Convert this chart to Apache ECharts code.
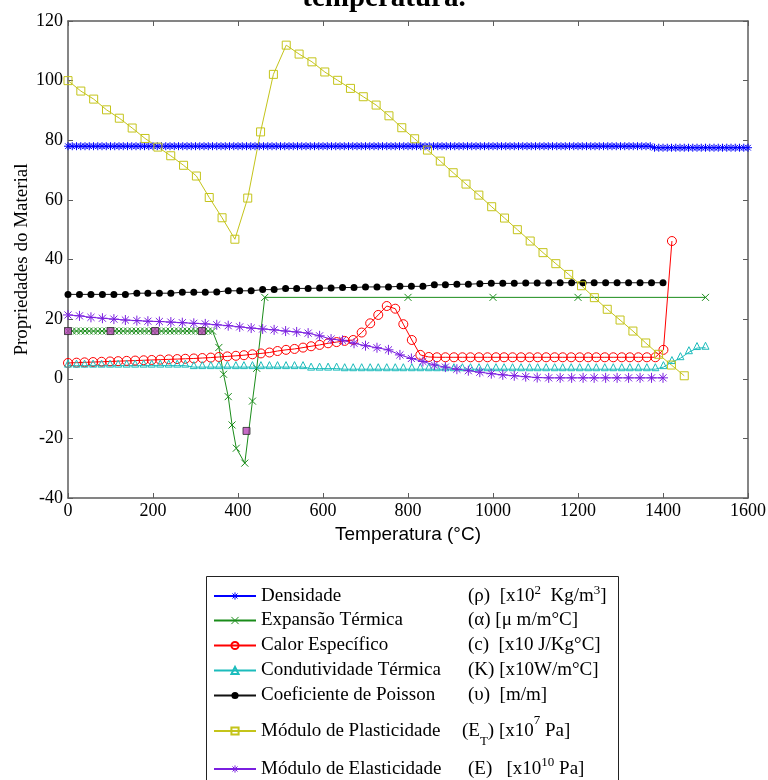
<!DOCTYPE html>
<html>
<head>
<meta charset="utf-8">
<script src="https://cdn.jsdelivr.net/npm/echarts@6/dist/echarts.min.js"></script>
<style>
html,body{margin:0;padding:0;background:#fff;}
#chart{width:768px;height:780px;}
</style>
</head>
<body>
<div id="chart"></div>
<script>
// ---------------- DATA ----------------
const titleText = 'temperatura.';
const xAxisName = 'Temperatura (°C)';
const yAxisName = 'Propriedades do Material';

const seriesNames = ['Densidade', 'Expansão Térmica', 'Calor Específico', 'Condutividade Térmica',
  'Coeficiente de Poisson', 'Módulo de Plasticidade', 'Módulo de Elasticidade'];
const unitLabels = [
  '{u|(ρ)  [x10}{sup|2}{u|  Kg/m}{sup|3}{u|]}',
  '{u|(α) [μ m/m°C]}',
  '{u|(c)  [x10 J/Kg°C]}',
  '{u|(K) [x10W/m°C]}',
  '{u|(υ)  [m/m]}',
  '{u6|(E}{sub|T}{u6|) [x10}{sup6|7}{u6| Pa]}',
  '{u7|(E)   [x10}{sup|10}{u7| Pa]}'
];

// Densidade (x10^2 kg/m3)
const densT = [
  0,10,20,30,40,50,60,70,80,90,100,110,120,130,140,150,160,170,180,190,
  200,210,220,230,240,250,260,270,280,290,300,310,320,330,340,350,360,370,380,390,
  400,410,420,430,440,450,460,470,480,490,500,510,520,530,540,550,560,570,580,590,
  600,610,620,630,640,650,660,670,680,690,700,710,720,730,740,750,760,770,780,790,
  800,810,820,830,840,850,860,870,880,890,900,910,920,930,940,950,960,970,980,990,
  1000,1010,1020,1030,1040,1050,1060,1070,1080,1090,1100,1110,1120,1130,1140,1150,1160,1170,1180,1190,
  1200,1210,1220,1230,1240,1250,1260,1270,1280,1290,1300,1310,1320,1330,1340,1350,1360,1370,1380,1390,
  1400,1410,1420,1430,1440,1450,1460,1470,1480,1490,1500,1510,1520,1530,1540,1550,1560,1570,1580,1590,
  1600
];
const densV = [
  78,78,78,78,78,78,78,78,78,78,78,78,78,78,78,78,78,78,78,78,
  78,78,78,78,78,78,78,78,78,78,78,78,78,78,78,78,78,78,78,78,
  78,78,78,78,78,78,78,78,78,78,78,78,78,78,78,78,78,78,78,78,
  78,78,78,78,78,78,78,78,78,78,78,78,78,78,78,78,78,78,78,78,
  78,78,78,78,78,78,78,78,78,78,78,78,78,78,78,78,78,78,78,78,
  78,78,78,78,78,78,78,78,78,78,78,78,78,78,78,78,78,78,78,78,
  78,78,78,78,78,78,78,78,78,78,78,78,78,78,78,78,78,78,77.5,77.5,
  77.5,77.5,77.5,77.5,77.5,77.5,77.5,77.5,77.5,77.5,77.5,77.5,77.5,77.5,77.5,77.5,77.5,77.5,77.5,77.5,
  77.5
];

// Expansao termica
const expT = [
  0,10,20,30,40,50,60,70,80,90,100,110,120,130,140,150,160,170,180,190,
  200,210,220,230,240,250,260,270,280,290,300,310,320,330,340,
  355,366,377,386,396,416,434,444,463,800,1000,1200,1500
];
const expV = [
  16,16,16,16,16,16,16,16,16,16,16,16,16,16,16,16,16,16,16,16,
  16,16,16,16,16,16,16,16,16,16,16,16,16,16,16,
  10.5,1.5,-6.0,-15.5,-23.3,-28.3,-7.5,3.5,27.3,27.3,27.3,27.3,27.3
];

// temperature grid for calor especifico and condutividade
const tempGrid20 = [
  0,20,39,59,79,99,118,138,158,178,197,217,237,257,276,296,316,336,355,375,
  395,414,434,454,474,493,513,533,553,572,592,612,632,651,671,691,711,730,750,770,
  789,809,829,849,868,888,908,928,947,967,987,1007,1026,1046,1066,1086,1105,1125,1145,1164,
  1184,1204,1224,1243,1263,1283,1303,1322,1342,1362,1382,1401,1421,1441,1461,1480,1500
];
const calorV = [
  5.3,5.4,5.5,5.6,5.7,5.8,5.9,6.0,6.1,6.2,
  6.3,6.4,6.5,6.6,6.7,6.8,6.95,7.1,7.3,7.5,
  7.7,7.9,8.2,8.5,8.8,9.3,9.7,10.0,10.45,10.9,
  11.35,11.9,12.3,12.7,13.0,15.5,18.6,21.4,24.4,23.5,
  18.3,13.0,8.0,7.3,
  7.2,7.2,7.2,7.2,7.2,7.2,7.2,7.2,7.2,7.2,7.2,7.2,7.2,7.2,7.2,7.2,7.2,7.2,7.2,7.2,7.2,7.2,7.2,7.2,7.2,7.2,7.2,
  9.7,46.2
];
const condV = [
  4.4,4.4,4.4,4.4,4.4,4.4,4.4,4.4,4.4,4.4,4.4,4.4,4.4,4.4,4.4,
  3.9,3.9,3.9,3.9,3.9,3.9,3.9,3.9,3.9,3.9,3.9,3.9,3.9,3.9,
  3.4,3.4,3.4,3.4,
  3.2,3.2,3.2,3.2,3.2,3.2,3.2,3.2,3.2,3.2,3.2,3.2,3.2,3.2,3.2,3.2,3.2,3.2,3.2,
  3.2,3.2,3.2,3.2,3.2,3.2,3.2,3.2,3.2,3.2,3.2,3.2,3.2,3.2,3.2,3.2,3.2,3.2,3.2,
  3.9,5.6,6.9,8.9,10.3,10.4
];

// temperature grid for Poisson and elasticity
const tempGrid27 = [
  0,27,54,81,108,135,162,188,215,242,269,296,323,350,377,404,431,458,485,512,
  538,565,592,619,646,673,700,727,754,781,808,835,862,888,915,942,969,996,1023,1050,
  1077,1104,1131,1158,1185,1212,1238,1265,1292,1319,1346,1373,1400
];
const poissonV = [
  28.3,28.3,28.3,28.3,28.3,28.3,28.7,28.7,28.7,28.7,29.0,29.0,29.0,29.1,29.5,29.5,29.5,29.9,29.9,30.3,
  30.3,30.3,30.4,30.4,30.6,30.6,30.8,30.8,30.8,31.0,31.0,31.0,31.5,31.5,31.7,31.7,31.9,32.0,32.0,32.0,
  32.1,32.1,32.1,32.2,32.2,32.2,32.2,32.2,32.2,32.2,32.2,32.2,32.2
];
const elastV = [
  21.4,21.1,20.6,20.3,20.0,19.7,19.5,19.3,19.2,19.0,18.8,18.6,18.4,18.1,17.8,17.4,17.0,16.7,16.4,16.0,
  15.7,15.3,14.4,13.3,12.9,11.9,11.1,10.4,9.7,8.0,6.8,5.8,4.6,3.9,3.2,2.7,2.2,1.7,1.3,1.0,
  0.7,0.4,0.3,0.3,0.3,0.3,0.3,0.3,0.3,0.3,0.3,0.3,0.3
];

// Modulo de plasticidade
const plastT = [
  0,30.2,60.4,90.6,120.8,151,181.3,211.5,241.7,271.9,302.1,332.3,362.5,392.7,422.9,453.1,483.3,513.5,543.8,574,
  604.2,634.4,664.6,694.8,725,755.2,785.4,815.6,845.8,876,906.3,936.5,966.7,996.9,1027.1,1057.3,1087.5,1117.7,1147.9,1178.1,
  1208.3,1238.5,1268.8,1299,1329.2,1359.4,1389.6,1419.8,1450
];
const plastV = [
  100,96.5,93.8,90.2,87.4,84.1,80.6,77.7,74.8,71.6,68.0,60.8,54.0,46.8,60.6,82.8,102.1,111.9,108.9,106.3,
  102.9,100.1,97.4,94.6,91.8,88.2,84.2,80.5,76.7,73.0,69.1,65.3,61.6,57.7,53.9,50.0,46.2,42.3,38.6,35.0,
  31.2,27.2,23.3,19.7,16.0,12.0,8.2,4.6,1.0
];

// extra highlighted points (magenta squares, not in legend)
const markT = [0, 100, 205, 315, 420];
const markV = [16, 16, 16, 16, -17.5];

// ---------------- CHART ----------------
const zip = (t, v) => v.map((y, i) => [t[i], y]);
const STAR = 'path://M0,-10L0,10M-10,0L10,0M-7.07,-7.07L7.07,7.07M-7.07,7.07L7.07,-7.07';
const XMARK = 'path://M-10,-10L10,10M-10,10L10,-10';
const NONE = 'rgba(0,0,0,0)';

const colors = {
  dens: '#0000ff', exp: '#1a8c1a', calor: '#ff0000', cond: '#1cbcbc',
  poisson: '#111111', plast: '#c4c41a', elast: '#7a1fe0'
};

function lineSeries(name, data, color, symbol, size, fill, extra) {
  return Object.assign({
    type: 'line', name: name, data: data,
    symbol: symbol, symbolSize: size, showAllSymbol: true,
    lineStyle: { color: color, width: 1 },
    itemStyle: { color: fill, borderColor: color, borderWidth: 1 },
    emphasis: { disabled: true },
    animation: false
  }, extra || {});
}

const series = [
  lineSeries(seriesNames[0], zip(densT, densV), colors.dens, STAR, 8, NONE),
  lineSeries(seriesNames[1], zip(expT, expV), colors.exp, XMARK, 7, NONE),
  lineSeries(seriesNames[2], zip(tempGrid20, calorV), colors.calor, 'circle', 9, NONE),
  lineSeries(seriesNames[3], zip(tempGrid20, condV), colors.cond, 'triangle', 7, NONE, { symbolOffset: [0, -2] }),
  lineSeries(seriesNames[4], zip(tempGrid27, poissonV), colors.poisson, 'circle', 7, '#000', { itemStyle: { color: '#000', borderColor: '#000', borderWidth: 0 } }),
  lineSeries(seriesNames[5], zip(plastT, plastV), colors.plast, 'rect', 8, NONE),
  lineSeries(seriesNames[6], zip(tempGrid27, elastV), colors.elast, STAR, 10, NONE),
  {
    type: 'scatter', name: '_marks', data: zip(markT, markV),
    symbol: 'rect', symbolSize: 7,
    itemStyle: { color: '#b845b8', borderColor: '#2a2a2a', borderWidth: 1 },
    emphasis: { disabled: true }, animation: false, z: 5
  }
];
const seriesColorList = [colors.dens, colors.exp, colors.calor, colors.cond, colors.poisson, colors.plast, colors.elast];

const legendTops = [584, 611, 636, 661, 686, 714, 756];
const nameTok = ['n', 'n', 'n', 'n', 'n', 'n6', 'n7'];
const SERIF = '"Liberation Serif", "Times New Roman", serif';
const rich = {
  n:  { fontFamily: SERIF, fontSize: 19, lineHeight: 24, width: 207, color: '#000' },
  n6: { fontFamily: SERIF, fontSize: 19, lineHeight: 34, width: 201, color: '#000' },
  n7: { fontFamily: SERIF, fontSize: 19, lineHeight: 26, width: 207, color: '#000' },
  u:  { fontFamily: SERIF, fontSize: 19, lineHeight: 24, color: '#000' },
  u6: { fontFamily: SERIF, fontSize: 19, lineHeight: 34, color: '#000' },
  u7: { fontFamily: SERIF, fontSize: 19, lineHeight: 26, color: '#000' },
  sup: { fontFamily: SERIF, fontSize: 13, lineHeight: 12, verticalAlign: 'top', color: '#000' },
  sup6: { fontFamily: SERIF, fontSize: 13, lineHeight: 18, verticalAlign: 'top', color: '#000' },
  sub: { fontFamily: SERIF, fontSize: 13, lineHeight: 12, verticalAlign: 'bottom', color: '#000' }
};
const legends = seriesNames.map((nm, i) => {
  const isPath = (i === 0 || i === 6 || i === 1);
  const item = { name: nm };
  if (isPath) {
    item.itemStyle = { color: NONE, borderColor: seriesColorList[i], borderWidth: 1 };
  }
  return {
    show: true, orient: 'vertical', left: 213, top: legendTops[i], padding: 0,
    itemWidth: 42, itemHeight: 9, itemGap: 0, selectedMode: false,
    data: [item],
    formatter: (name) => '{' + nameTok[i] + '|' + name + '}' + unitLabels[i],
    textStyle: { fontFamily: SERIF, fontSize: 19, color: '#000', rich: rich }
  };
});

const AX = '#5c5c5c';
const axisCommon = {
  axisLine: { show: true, onZero: false, lineStyle: { color: AX, width: 1.5 } },
  axisTick: { show: true, inside: true, length: 5, lineStyle: { color: AX, width: 1 } },
  splitLine: { show: false }
};
const plainNum = (v) => String(v);

const option = {
  backgroundColor: '#fff',
  animation: false,
  title: {
    text: titleText, left: 'center', top: -16, padding: 0,
    textStyle: { fontFamily: SERIF, fontSize: 29, fontWeight: 'bold', color: '#000' }
  },
  grid: { left: 68, top: 21, right: 20, bottom: 282, containLabel: false, outerBoundsMode: 'none' },
  xAxis: [
    Object.assign({
      type: 'value', min: 0, max: 1600, interval: 200, position: 'bottom',
      axisLabel: { margin: 4, fontFamily: SERIF, fontSize: 18, color: '#000', formatter: plainNum },
      name: xAxisName, nameLocation: 'middle', nameGap: 27, nameMoveOverlap: false,
      nameTextStyle: { fontFamily: '"Liberation Sans", Arial, sans-serif', fontSize: 19, color: '#000' }
    }, axisCommon),
    Object.assign({
      type: 'value', min: 0, max: 1600, interval: 200, position: 'top',
      axisLabel: { show: false }
    }, axisCommon)
  ],
  yAxis: [
    Object.assign({
      type: 'value', min: -40, max: 120, interval: 20, position: 'left',
      axisLabel: { margin: 5, fontFamily: SERIF, fontSize: 18, color: '#000', formatter: plainNum },
      name: yAxisName, nameLocation: 'middle', nameGap: 36, nameMoveOverlap: false,
      nameTextStyle: { fontFamily: SERIF, fontSize: 19, color: '#000' }
    }, axisCommon),
    Object.assign({
      type: 'value', min: -40, max: 120, interval: 20, position: 'right',
      axisLabel: { show: false }
    }, axisCommon)
  ],
  legend: legends,
  graphic: [{
    type: 'rect', z: -10, silent: true,
    shape: { x: 206.5, y: 576.5, width: 412, height: 240 },
    style: { fill: '#fff', stroke: '#222', lineWidth: 1 }
  }],
  series: series
};

const chart = echarts.init(document.getElementById('chart'), null, { renderer: 'canvas' });
chart.setOption(option);
</script>
</body>
</html>
